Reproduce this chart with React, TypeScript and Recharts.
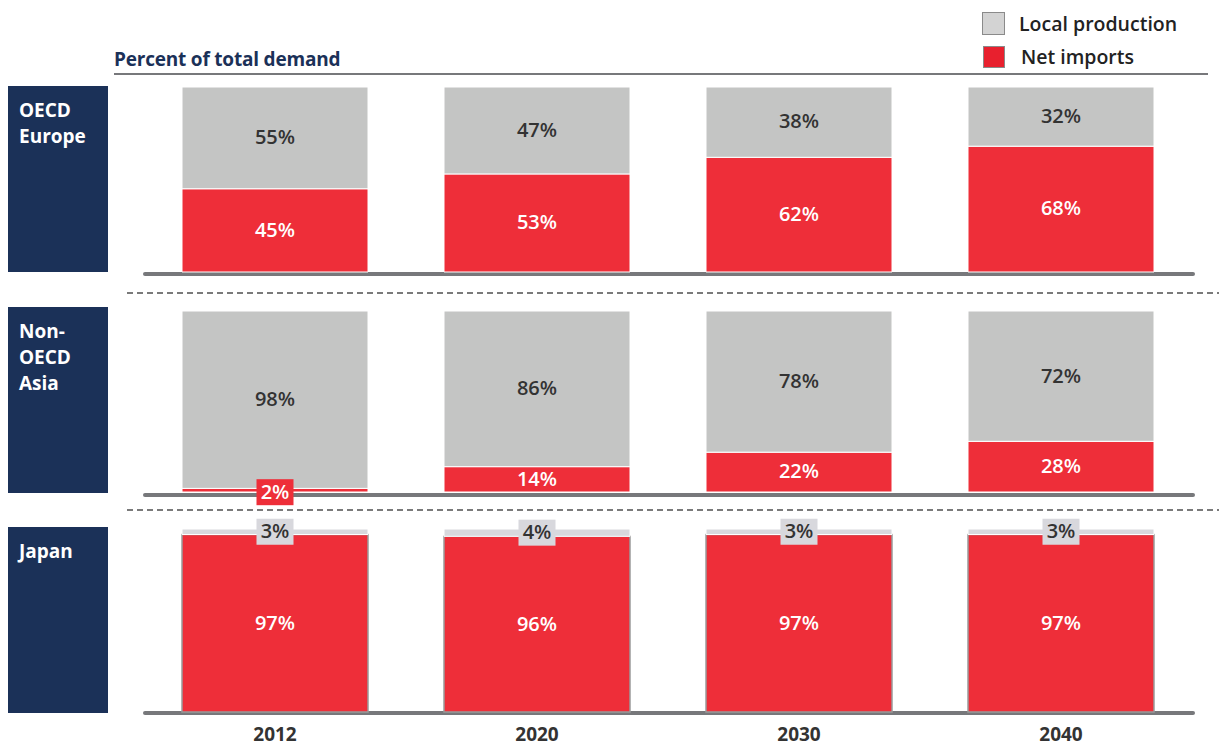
import React from "react"
import { Bar, BarChart, LabelList, XAxis, YAxis } from "recharts"

const years = ["2012", "2020", "2030", "2040"]
const regions = ["OECD Europe", "Non-OECD Asia", "Japan"]

const europeLocal = [55, 47, 38, 32]
const europeImports = [45, 53, 62, 68]
const asiaLocal = [98, 86, 78, 72]
const asiaImports = [2, 14, 22, 28]
const japanLocal = [3, 4, 3, 3]
const japanImports = [97, 96, 97, 97]

const FONT = "'Open Sans', 'Noto Sans', sans-serif"
const NAVY = "#1b3158"
const RED = "#ee2e39"
const GREY = "#c4c5c4"
const AXIS = "#77787b"
const PAD = 20

const rows = (local: number[], imports: number[]) =>
  years.map((year, i) => ({ year, local: local[i], imports: imports[i] }))

const makeLabel = (kind: "local" | "imports", boxFill: string) => (props: any) => {
  const { x, y, width, height, value } = props
  const cx = x + width / 2
  const cy = y + height / 2
  const color = kind === "local" ? "#333333" : "#ffffff"
  const text = (
    <text x={cx} y={cy + 1} textAnchor="middle" dominantBaseline="middle" fontFamily={FONT} fontSize={20} fontWeight={600} fill={color}>
      {`${value}%`}
    </text>
  )
  if (value < 5) {
    // tiny segment: value sits in a little box of the same colour
    const by = kind === "imports" ? cy + 2 : cy
    return (
      <g>
        <rect x={cx - 18.5} y={by - 13} width={37} height={26} fill={boxFill} />
        <text x={cx} y={by + 1} textAnchor="middle" dominantBaseline="middle" fontFamily={FONT} fontSize={20} fontWeight={600} fill={color}>
          {`${value}%`}
        </text>
      </g>
    )
  }
  return text
}

function Panel({ top, plotH, data, localFill, showYears, edge }: any) {
  const axisH = showYears ? 32 : 0
  return (
    <div style={{ position: "absolute", left: 0, top: top - PAD }}>
      <BarChart
        width={1219}
        height={PAD + plotH + (showYears ? axisH : PAD)}
        data={data}
        margin={{ top: PAD, right: 27, bottom: showYears ? 0 : PAD, left: 144 }}
        barSize={186}
      >
        <YAxis hide domain={[0, 100]} />
        <XAxis
          dataKey="year"
          hide={!showYears}
          height={axisH}
          axisLine={false}
          tickLine={false}
          tick={{ fontFamily: FONT, fontSize: 19, fontWeight: 700, fill: "#333" }}
          dy={8}
        />
        <Bar dataKey="imports" stackId="a" fill={RED} stroke={edge} strokeWidth={edge === "#fff" ? 1 : 1.5} isAnimationActive={false}>
          <LabelList dataKey="imports" content={makeLabel("imports", RED)} />
        </Bar>
        <Bar dataKey="local" stackId="a" fill={localFill} stroke="#fff" strokeWidth={1} isAnimationActive={false}>
          <LabelList dataKey="local" content={makeLabel("local", localFill)} />
        </Bar>
      </BarChart>
    </div>
  )
}

const dashed = {
  position: "absolute" as const,
  left: 127,
  width: 1092,
  height: 2,
  background: "repeating-linear-gradient(90deg, #7a7a7a 0 6px, transparent 6px 10px)",
}

export default function App() {
  const boxes = [
    { top: 86, h: 186, lines: ["OECD", "Europe"] },
    { top: 307, h: 186, lines: ["Non-", "OECD", "Asia"] },
    { top: 527, h: 186, lines: ["Japan"] },
  ]
  const baselines = [272, 493, 711]
  return (
    <div style={{ position: "absolute", left: 0, top: 0, width: 1219, height: 744, background: "#fff", fontFamily: FONT }}>
      {/* title + rule */}
      <div style={{ position: "absolute", left: 114, top: 46, fontSize: 19, fontWeight: 700, color: NAVY, letterSpacing: -0.2, lineHeight: "normal" }}>
        Percent of total demand
      </div>
      <div style={{ position: "absolute", left: 114, top: 73, width: 1094, height: 2, background: AXIS }} />

      {/* legend */}
      <div style={{ position: "absolute", left: 982, top: 12, width: 23, height: 23, background: "#d3d3d3", border: "1px solid #8a8a8a", boxSizing: "border-box" }} />
      <div style={{ position: "absolute", left: 1019, top: 10, fontSize: 19.5, fontWeight: 600, color: "#222", lineHeight: "normal" }}>Local production</div>
      <div style={{ position: "absolute", left: 983, top: 46, width: 22, height: 22, background: "#e8202e", border: "1px solid #8a8a8a", boxSizing: "border-box" }} />
      <div style={{ position: "absolute", left: 1021, top: 43, fontSize: 19.5, fontWeight: 600, color: "#222", lineHeight: "normal" }}>Net imports</div>

      {/* region boxes */}
      {boxes.map((b, i) => (
        <div
          key={regions[i]}
          style={{ position: "absolute", left: 8, top: b.top, width: 100, height: b.h, background: NAVY, color: "#fff", fontSize: 19, fontWeight: 700, lineHeight: "26px", padding: "11px 0 0 11px", boxSizing: "border-box" }}
        >
          {b.lines.map((l) => (
            <div key={l}>{l}</div>
          ))}
        </div>
      ))}

      {/* dashed separators */}
      <div style={{ ...dashed, top: 292 }} />
      <div style={{ ...dashed, top: 509 }} />

      {/* baselines under the bars */}
      {baselines.map((t) => (
        <div key={t} style={{ position: "absolute", left: 143, top: t, width: 1052, height: 4, borderRadius: 2, background: AXIS }} />
      ))}

      <Panel top={87} plotH={185} data={rows(europeLocal, europeImports)} localFill={GREY} showYears={false} edge="#fff" />
      <Panel top={311} plotH={181} data={rows(asiaLocal, asiaImports)} localFill={GREY} showYears={false} edge="#fff" />
      <Panel top={529} plotH={183} data={rows(japanLocal, japanImports)} localFill="#d8d8dd" showYears={true} edge="#9a9a9a" />
    </div>
  )
}
